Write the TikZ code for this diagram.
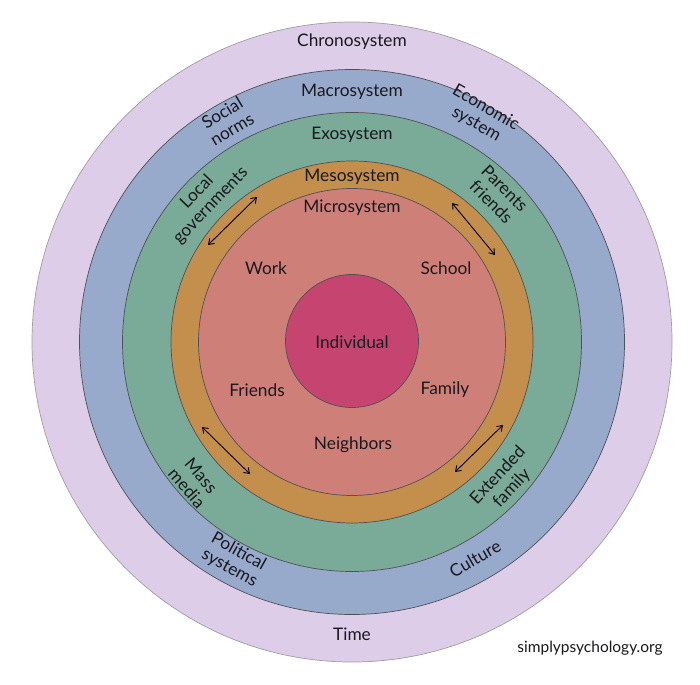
\documentclass[tikz,border=0pt]{standalone}
\usepackage{fontspec}
\setmainfont{Lato}
\usetikzlibrary{arrows.meta}
\definecolor{chrono}{RGB}{221,205,233}
\definecolor{macro}{RGB}{152,170,204}
\definecolor{exo}{RGB}{122,170,152}
\definecolor{meso}{RGB}{196,142,76}
\definecolor{micro}{RGB}{206,128,120}
\definecolor{indiv}{RGB}{197,69,112}
\definecolor{ringline}{RGB}{80,80,85}
\definecolor{txt}{RGB}{25,25,30}
\begin{document}
\begin{tikzpicture}[x=1pt,y=-1pt,
  ring/.style={circle, draw=ringline, line width=0.7pt, inner sep=0pt},
  lbl/.style={font=\fontsize{17.3}{19}\selectfont, text=txt, align=center, inner sep=0pt},
  arr/.style={{Straight Barb[length=5pt,width=7pt]}-{Straight Barb[length=5pt,width=7pt]}, line width=0.9pt, draw=black}]
\useasboundingbox (0,0) rectangle (700,684);
\fill[white] (0,0) rectangle (700,684);
% rings
\node[ring, fill=chrono, draw=gray!75, minimum size=640pt] (chrono) at (352,342) {};
\node[ring, fill=macro, minimum size=545pt] (macro) at (352,342) {};
\node[ring, fill=exo, minimum size=459pt] (exo) at (352,342) {};
\node[ring, fill=meso, minimum size=362pt] (meso) at (352,342) {};
\node[ring, fill=micro, minimum size=307pt] (micro) at (352,342) {};
\node[ring, fill=indiv, minimum size=133pt] (indiv) at (352,341) {};
% ring titles
\node[lbl] (tchrono) at (352,42) {Chronosystem};
\node[lbl] (tmacro) at (352,92) {Macrosystem};
\node[lbl] (texo) at (352,135) {Exosystem};
\node[lbl] (tmeso) at (352,177) {Mesosystem};
\node[lbl] (tmicro) at (352,208) {Microsystem};
\node[lbl] (tindiv) at (352,342) {Individual};
\node[lbl] (ttime) at (352,634) {Time};
% microsystem items
\node[lbl] (work) at (266,268) {Work};
\node[lbl] (school) at (446,268) {School};
\node[lbl] (friends) at (257,390) {Friends};
\node[lbl] (family) at (445,390) {Family};
\node[lbl] (neigh) at (353,445) {Neighbors};
% macrosystem items
\node[lbl, rotate=31] (social) at (227,121) {Social\\norms};
\node[lbl, rotate=-30] (econ) at (481,116) {Economic\\system};
\node[lbl, rotate=-29] (polit) at (234,560) {Political\\systems};
\node[lbl, rotate=30] (culture) at (475,559) {Culture};
% exosystem items
\node[lbl, rotate=46] (local) at (204,199) {Local\\governments};
\node[lbl, rotate=-45] (parents) at (498,195) {Parents\\friends};
\node[lbl, rotate=-49] (mass) at (194,482) {Mass\\media};
\node[lbl, rotate=47] (ext) at (505,482) {Extended\\family};
% arrows in the mesosystem ring
\coordinate (a1s) at (208,245); \coordinate (a1e) at (257,197);
\coordinate (a2s) at (452,203); \coordinate (a2e) at (495,255);
\coordinate (a3s) at (202,427); \coordinate (a3e) at (250,474);
\coordinate (a4s) at (503,425); \coordinate (a4e) at (455,472);
\draw[arr] (a1s) -- (a1e);
\draw[arr] (a2s) -- (a2e);
\draw[arr] (a3s) -- (a3e);
\draw[arr] (a4s) -- (a4e);
% credit
\node[font=\fontsize{15.5}{17}\selectfont, text=txt, inner sep=0pt] (credit) at (590,648) {simplypsychology.org};
\end{tikzpicture}
\end{document}
